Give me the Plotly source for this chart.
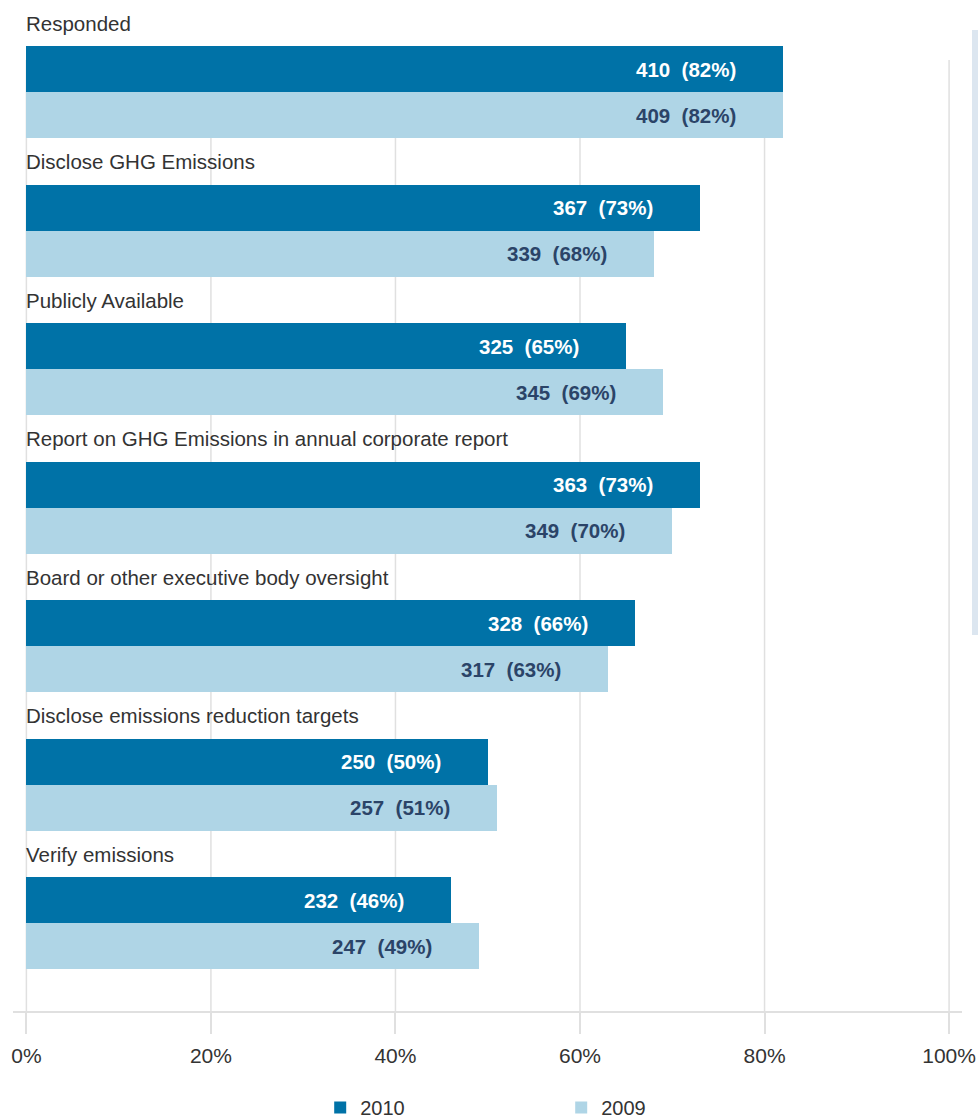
import plotly.graph_objects as go

# Survey disclosure measures, 2010 vs 2009 (counts and share of companies)
categories = [
    "Responded",
    "Disclose GHG Emissions",
    "Publicly Available",
    "Report on GHG Emissions in annual corporate report",
    "Board or other executive body oversight",
    "Disclose emissions reduction targets",
    "Verify emissions",
]
count_2010 = [410, 367, 325, 363, 328, 250, 232]
pct_2010 = [82, 73, 65, 73, 66, 50, 46]
count_2009 = [409, 339, 345, 349, 317, 257, 247]
pct_2009 = [82, 68, 69, 70, 63, 51, 49]
x_ticks = [0, 20, 40, 60, 80, 100]
x_tick_labels = ["0%", "20%", "40%", "60%", "80%", "100%"]

DARK = "#0072A7"
LIGHT = "#AFD5E6"
NAVY = "#2B4468"
GRID = "#E0E0E0"
FONT = "Liberation Sans, Arial, sans-serif"

# each category occupies three rows: label, 2010 bar, 2009 bar
label_rows = [3 * i + 0.5 for i in range(len(categories))]
rows_2010 = [3 * i + 1.5 for i in range(len(categories))]
rows_2009 = [3 * i + 2.5 for i in range(len(categories))]

fig = go.Figure()
fig.add_trace(go.Bar(
    name="2010", orientation="h", x=pct_2010, y=rows_2010, width=1.0,
    marker=dict(color=DARK, line=dict(width=0)), hoverinfo="skip",
))
fig.add_trace(go.Bar(
    name="2009", orientation="h", x=pct_2009, y=rows_2009, width=1.0,
    marker=dict(color=LIGHT, line=dict(width=0)), hoverinfo="skip",
))

annotations = []
for cat, yr in zip(categories, label_rows):
    annotations.append(dict(
        x=0, y=yr, xref="x", yref="y", text=cat, showarrow=False,
        xanchor="left", yanchor="middle", xshift=-2,
        font=dict(family=FONT, size=20.5, color="#333333"),
    ))
for c, p, yr in zip(count_2010, pct_2010, rows_2010):
    annotations.append(dict(
        x=p, y=yr, xref="x", yref="y", text=f"<b>{c}&nbsp;&nbsp;({p}%)</b>",
        showarrow=False, xanchor="right", yanchor="middle", xshift=-45,
        font=dict(family=FONT, size=20.5, color="#FFFFFF"),
    ))
for c, p, yr in zip(count_2009, pct_2009, rows_2009):
    annotations.append(dict(
        x=p, y=yr, xref="x", yref="y", text=f"<b>{c}&nbsp;&nbsp;({p}%)</b>",
        showarrow=False, xanchor="right", yanchor="middle", xshift=-45,
        font=dict(family=FONT, size=20.5, color=NAVY),
    ))

PLOT_H = 1011.0
shapes = []
for v in x_ticks:
    shapes.append(dict(
        type="line", xref="x", yref="paper", x0=v, x1=v,
        y0=0, y1=(PLOT_H - 60) / PLOT_H,
        line=dict(color=GRID, width=1.5), layer="below",
    ))
# side panel strip
shapes.append(dict(
    type="rect", xref="paper", yref="paper",
    x0=(972 - 12.7) / 949.3, x1=(980 - 12.7) / 949.3,
    y0=(PLOT_H - 635) / PLOT_H, y1=(PLOT_H - 30) / PLOT_H,
    fillcolor="#DCE6F0", line=dict(width=0), layer="below",
))

fig.update_layout(
    width=978, height=1118,
    margin=dict(l=13, r=16, t=0, b=1118 - 1011, autoexpand=False),
    paper_bgcolor="white", plot_bgcolor="white",
    barmode="overlay", bargap=0,
    font=dict(family=FONT, size=20, color="#333333"),
    xaxis=dict(
        range=[-1.45, 101.4], tickvals=x_ticks, ticktext=x_tick_labels,
        showgrid=False, zeroline=False, showline=True, linecolor=GRID, linewidth=1.5,
        ticks="outside", ticklen=21, tickwidth=1.5, tickcolor=GRID,
        ticklabelstandoff=4, automargin=False,
        tickfont=dict(family=FONT, size=21, color="#333333"), fixedrange=True,
    ),
    yaxis=dict(
        range=[21.9, 0], visible=False, showgrid=False, zeroline=False, fixedrange=True,
    ),
    legend=dict(
        orientation="h", x=(320 - 12.7) / 949.3, xanchor="left",
        yref="container", y=(1118 - 1088) / 1118, yanchor="top",
        entrywidth=196, entrywidthmode="pixels",
        font=dict(family=FONT, size=20, color="#333333"),
        bgcolor="rgba(0,0,0,0)",
    ),
    annotations=annotations,
    shapes=shapes,
    showlegend=True,
)

fig.write_html("out.html")
